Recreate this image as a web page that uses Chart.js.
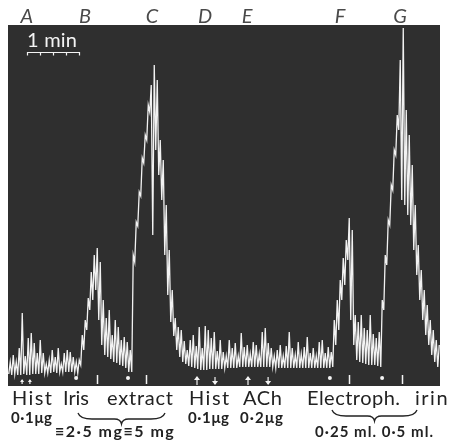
<!DOCTYPE html>
<html>
<head>
<meta charset="utf-8">
<script src="https://cdn.jsdelivr.net/npm/chart.js@4.4.1/dist/chart.umd.min.js"></script>
<style>
  html, body { margin: 0; padding: 0; background: #fff; }
  #trace { display: block; }
</style>
</head>
<body>
<canvas id="trace" width="449" height="441"></canvas>
<script>
// kymograph record: for each sample the pen swings between a low and a high reading
const traceLow = [
  12, 11, 12, 11, 11, 12, 11, 11, 12, 12, 12, 13, 13, 13, 13, 14, 13, 14, 14, 14, 14, 14, 14,
  13, 21, 36, 56, 76, 86, 96, 66, 41, 31, 29, 27, 24, 23, 21, 20, 18, 14,
  14, 124, 160, 190, 223, 246, 274, 151, 236, 211, 186, 131, 91, 64, 50, 36, 29, 24, 22, 20, 19,
  18, 17, 16, 16, 16, 17, 17, 17, 17, 17, 18, 18, 18, 18, 18, 19, 19, 19, 19, 19, 19, 19, 19,
  19, 19, 19, 19, 18, 18, 18, 18, 18, 18, 18, 18, 18, 18, 18, 18, 18, 18, 18, 18, 18, 18, 18,
  19, 41, 56, 86, 101, 126, 66, 41, 26, 24, 23, 22, 21, 21, 21, 20,
  19, 76, 121, 161, 196, 231, 256, 186, 181, 171, 161, 136, 111, 86, 66, 51, 41, 31, 24, 19
];
const traceHigh = [
  24, 31, 24, 38, 73, 30, 48, 53, 43, 33, 46, 33, 22, 26, 36, 29, 38, 22, 33, 36, 34, 29, 24,
  26, 51, 66, 88, 114, 131, 138, 124, 86, 68, 76, 51, 66, 59, 46, 49, 44, 36,
  131, 164, 194, 228, 251, 281, 301, 321, 306, 246, 226, 181, 136, 96, 68, 59, 56, 45, 36, 46, 51,
  40, 59, 38, 60, 56, 48, 54, 35, 46, 34, 30, 46, 38, 43, 30, 53, 39, 41, 32, 44, 41, 32, 54,
  58, 43, 38, 30, 36, 41, 30, 40, 54, 38, 31, 44, 32, 39, 49, 33, 38, 30, 44, 46, 33, 39, 34,
  66, 86, 106, 128, 146, 168, 156, 71, 64, 71, 58, 56, 71, 52, 48, 54,
  86, 131, 166, 201, 236, 271, 326, 358, 276, 251, 221, 181, 141, 116, 96, 81, 66, 56, 46, 41
];

// signal marks along the bottom of the record (sample positions)
const dotMarks = [22.2, 39.5, 106.8, 124.2];
const tickMarks = [29.2, 45.5, 113.2, 130.8];
const smallUpMarks = [4.2, 6.8];
const upMarks = [62.5, 79.5];
const downMarks = [68.5, 86.2];

// event letters above the record
const eventLetters = ["A", "B", "C", "D", "E", "F", "G"];
const eventSamples = [5.8, 25.2, 47.5, 65.2, 79.2, 110.2, 130.2];

const panelColor = "#2f2f2f";
const ink = "#222";

// pen path: low then high for every sample
const penPath = [];
traceLow.forEach((lo, i) => {
  penPath.push({ x: i - 0.25, y: lo });
  penPath.push({ x: i + 0.25, y: traceHigh[i] });
});

const panelBackground = {
  id: "panelBackground",
  beforeDraw(chart) {
    const { ctx, chartArea: a } = chart;
    ctx.save();
    ctx.fillStyle = panelColor;
    ctx.fillRect(a.left, a.top, a.right - a.left, a.bottom - a.top);
    ctx.restore();
  },
};

// text at a fixed size, letter-spaced out to a given width
function spacedText(ctx, text, x, y, width, font) {
  ctx.font = font;
  ctx.letterSpacing = "0px";
  let gap = (width - ctx.measureText(text).width) / Math.max(1, text.length - 1);
  gap = Math.max(-1, Math.min(1.5, gap));
  ctx.letterSpacing = gap.toFixed(2) + "px";
  ctx.fillText(text, x, y);
  ctx.letterSpacing = "0px";
}

function drawBrace(ctx, x1, x2, y0) {
  const xc = (x1 + x2) / 2;
  ctx.beginPath();
  ctx.moveTo(x1, y0);
  ctx.quadraticCurveTo(x1 + 2, y0 + 6, x1 + 14, y0 + 6);
  ctx.lineTo(xc - 7, y0 + 6);
  ctx.quadraticCurveTo(xc - 1, y0 + 6, xc, y0 + 11);
  ctx.quadraticCurveTo(xc + 1, y0 + 6, xc + 7, y0 + 6);
  ctx.lineTo(x2 - 14, y0 + 6);
  ctx.quadraticCurveTo(x2 - 2, y0 + 6, x2, y0);
  ctx.stroke();
}

function drawArrow(ctx, x, yTop, len, head, up) {
  ctx.beginPath();
  ctx.moveTo(x, yTop);
  ctx.lineTo(x, yTop + len);
  ctx.stroke();
  ctx.beginPath();
  if (up) {
    ctx.moveTo(x, yTop - 1);
    ctx.lineTo(x - head, yTop + head);
    ctx.lineTo(x + head, yTop + head);
  } else {
    ctx.moveTo(x, yTop + len + 1);
    ctx.lineTo(x - head, yTop + len - head);
    ctx.lineTo(x + head, yTop + len - head);
  }
  ctx.closePath();
  ctx.fill();
}

const annotations = {
  id: "annotations",
  afterDraw(chart) {
    const { ctx, chartArea: a } = chart;
    const xs = chart.scales.x;
    ctx.save();

    // marks on the record
    ctx.fillStyle = "#f4f4f4";
    ctx.strokeStyle = "#f4f4f4";
    ctx.lineWidth = 1.5;
    dotMarks.forEach((s) => {
      ctx.beginPath();
      ctx.arc(xs.getPixelForValue(s), a.bottom - 8, 2, 0, Math.PI * 2);
      ctx.fill();
    });
    tickMarks.forEach((s) => {
      const x = Math.round(xs.getPixelForValue(s)) + 0.5;
      ctx.beginPath();
      ctx.moveTo(x, a.bottom - 11);
      ctx.lineTo(x, a.bottom - 2);
      ctx.stroke();
    });
    ctx.lineWidth = 1.2;
    smallUpMarks.forEach((s) => drawArrow(ctx, xs.getPixelForValue(s), a.bottom - 6, 4, 2, true));
    upMarks.forEach((s) => drawArrow(ctx, xs.getPixelForValue(s), a.bottom - 9, 8, 3, true));
    downMarks.forEach((s) => drawArrow(ctx, xs.getPixelForValue(s), a.bottom - 9, 7, 3, false));

    // time scale
    ctx.textBaseline = "alphabetic";
    ctx.textAlign = "left";
    spacedText(ctx, "1 min", 27, 47, 50, "20px Lato");
    ctx.lineWidth = 1.2;
    ctx.beginPath();
    ctx.moveTo(27, 52.5);
    ctx.lineTo(79, 52.5);
    [27, 40, 53, 66, 79].forEach((x) => {
      ctx.moveTo(x + 0.5, 52);
      ctx.lineTo(x + 0.5, 55.5);
    });
    ctx.stroke();

    // event letters
    ctx.fillStyle = "#4a4a4a";
    ctx.font = "italic 20px Lato";
    ctx.textAlign = "center";
    eventLetters.forEach((t, i) => ctx.fillText(t, xs.getPixelForValue(eventSamples[i]), 23));

    // labels under the record
    ctx.fillStyle = ink;
    ctx.textAlign = "left";
    [["Hist", 12, 40], ["Iris", 63, 26], ["extract", 107, 66], ["Hist", 189, 41],
     ["ACh", 243, 39], ["Electroph.", 307, 93], ["irin", 415, 33]]
      .forEach(([t, x, w]) => spacedText(ctx, t, x, 405, w, "20px Lato"));
    [["0·1μg", 11, 41], ["0·1μg", 188, 41], ["0·2μg", 240, 43]]
      .forEach(([t, x, w]) => spacedText(ctx, t, x, 423, w, "bold 15px Lato"));
    spacedText(ctx, "≡2·5 mg≡5 mg", 55, 437, 138, "bold 16px Lato");
    spacedText(ctx, "0·25 ml. 0·5 ml.", 315, 437, 118, "bold 15px Lato");

    ctx.strokeStyle = ink;
    ctx.lineWidth = 1.3;
    drawBrace(ctx, 78, 165, 413);
    drawBrace(ctx, 332, 417, 410);

    ctx.restore();
  },
};

new Chart(document.getElementById("trace"), {
  type: "line",
  data: {
    datasets: [
      {
        label: "tension",
        data: penPath,
        borderColor: "#f2f2f2",
        borderWidth: 1.3,
        pointRadius: 0,
        tension: 0,
      },
    ],
  },
  options: {
    responsive: false,
    animation: false,
    devicePixelRatio: 1,
    layout: { padding: { left: 8, right: 9, top: 25, bottom: 55 } },
    plugins: { legend: { display: false }, tooltip: { enabled: false } },
    scales: {
      x: { type: "linear", display: false, min: -0.5, max: traceLow.length - 0.5 },
      y: { display: false, min: 0, max: 361 },
    },
  },
  plugins: [panelBackground, annotations],
});
</script>
</body>
</html>
